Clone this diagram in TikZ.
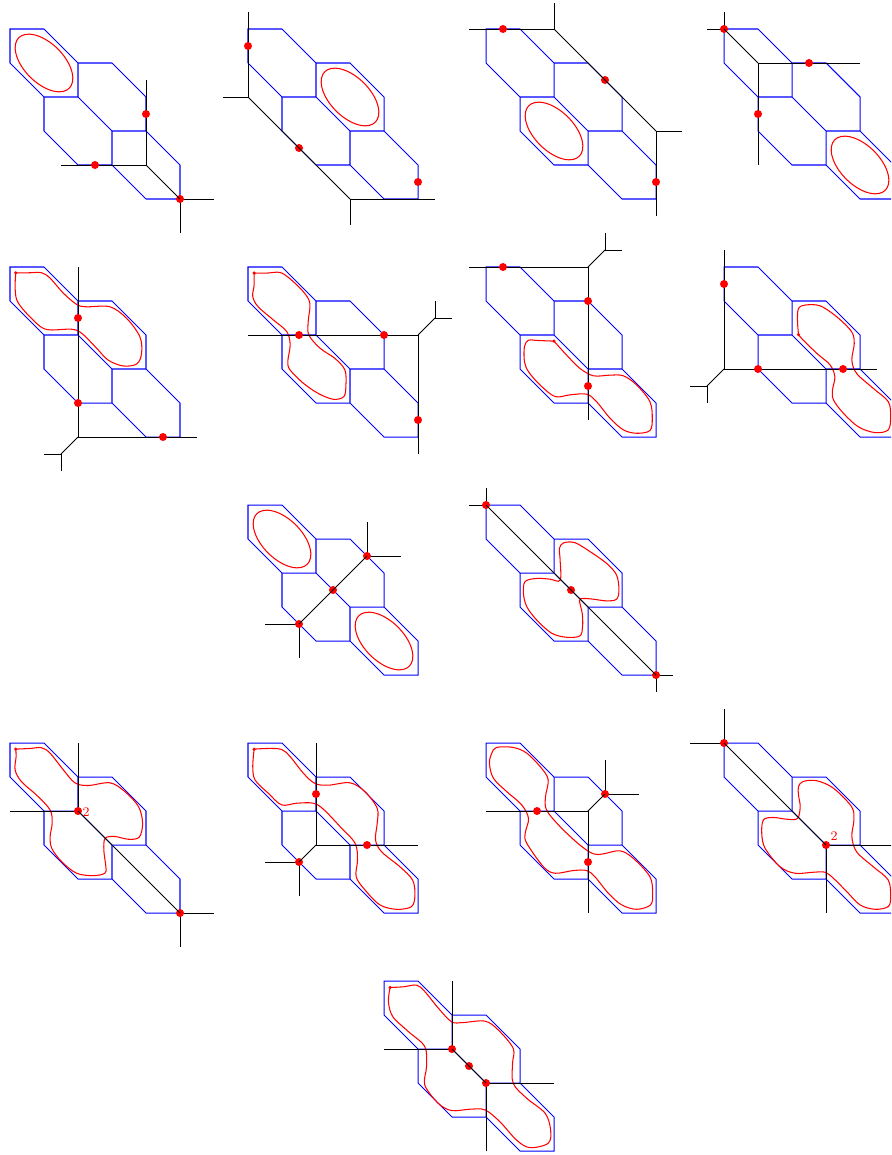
\documentclass[tikz,border=0pt]{standalone}
\usepackage{tikz}

\newcommand{\hexes}{\draw[sub] (0,0) -- (1,0) -- (2,1) -- (3,1) -- (4,2) -- (4,3) -- (5,4) -- (5,5) -- (4,5) -- (3,4) -- (2,4) -- (1,3) -- (1,2) -- (0,1) -- cycle
    (1,2) -- (2,2) -- (2,1) (2,2) -- (3,3) -- (4,3) (3,3) -- (3,4);}
\newcommand{\ringcur}[2]{\draw[cur] plot[smooth cycle, domain=0:350, samples=36] ({#1+.707*(1.05*cos(\x)+.58*sin(\x))},{#2+.707*(1.05*cos(\x)-.58*sin(\x))});}
\newcommand{\loopcur}[1]{\draw[cur] plot[smooth cycle, tension=.55] coordinates {#1};}
\newcommand{\seedcur}[2]{\draw[cur] plot[smooth, tension=.55] coordinates {#1 #2 #1};
    \fill[red] #1 circle (.035cm);}

\begin{document}
\begin{tikzpicture}[x=.68cm, y=-.68cm,
        sub/.style={blue, line width=.58pt},
        cur/.style={red, line width=.6pt},
        trop/.style={black, line width=.55pt},
        pt/.style={circle, fill=red, inner sep=0pt, minimum size=.16cm},
        mult/.style={red, inner sep=0pt, font=\fontsize{7.5}{9}\selectfont}]
      \useasboundingbox (0,0) rectangle (26.206,33.97);
      \clip (0,0) rectangle (26.206,33.97);

      % first row
      \begin{scope}[shift={(.294,.853)}]
        \hexes
        \ringcur{1}{1}
        \draw[trop] (4,1.5) -- (4,4) -- (1.5,4) (5,6) -- (5,5) -- (6,5);
        \node[pt] (a1) at (4,2.5) {};
        \node[pt] (b1) at (2.5,4) {};
        \node[pt] (c1) at (5,5) {};
        \draw[trop] (4,4) -- (5,5);
      \end{scope}
      \begin{scope}[shift={(7.294,.853)}]
        \hexes
        \ringcur{3}{2}
        \draw[trop] (0,-.5) -- (0,2) -- (-.75,2) (3,5.75) -- (3,5) -- (5.5,5);
        \node[pt] (a2) at (0,.5) {};
        \node[pt] (b2) at (1.5,3.5) {};
        \node[pt] (c2) at (5,4.5) {};
        \draw[trop] (0,2) -- (3,5);
      \end{scope}
      \begin{scope}[shift={(14.294,.853)}]
        \hexes
        \ringcur{2}{3}
        \draw[trop] (-.5,0) -- (2,0) -- (2,-.75) (5.75,3) -- (5,3) -- (5,5.5);
        \node[pt] (a3) at (.5,0) {};
        \node[pt] (b3) at (3.5,1.5) {};
        \node[pt] (c3) at (5,4.5) {};
        \draw[trop] (2,0) -- (5,3);
      \end{scope}
      \begin{scope}[shift={(21.294,.853)}]
        \hexes
        \ringcur{4}{4}
        \draw[trop] (-.5,0) -- (0,0) -- (0,-.5) (4,1) -- (1,1) -- (1,4);
        \node[pt] (a4) at (0,0) {};
        \node[pt] (b4) at (2.5,1) {};
        \node[pt] (c4) at (1,2.5) {};
        \draw[trop] (0,0) -- (1,1);
      \end{scope}

      % second row
      \begin{scope}[shift={(.294,7.853)}]
        \hexes
        \seedcur{(.17,.17)}{(.55,.17) (.93,.17) (1.18,.33) (1.57,.77) (1.96,1.1) (2.25,1.17) (2.94,1.17) (3.43,1.51) (3.82,2.05) (3.87,2.54) (3.73,2.85) (3.33,2.91) (2.89,2.74) (2.55,2.39) (2.11,1.95) (1.81,1.83) (1.18,1.85) (.88,1.74) (.44,1.31) (.2,.97) (.15,.58)}
        \draw[trop] (2,0) -- (2,5) -- (5.5,5) (1,5.5) -- (1.5,5.5) -- (1.5,6);
        \node[pt] (a5) at (2,1.5) {};
        \node[pt] (b5) at (2,4) {};
        \node[pt] (c5) at (4.5,5) {};
        \draw[trop] (2,5) -- (1.5,5.5);
      \end{scope}
      \begin{scope}[shift={(7.294,7.853)}]
        \hexes
        \seedcur{(.18,.18)}{(.55,.18) (.94,.16) (1.24,.35) (1.63,.73) (1.82,1.07) (1.77,1.61) (1.79,2) (2.12,2.39) (2.56,2.69) (2.85,3.03) (2.88,3.47) (2.82,3.81) (2.51,3.89) (2.07,3.72) (1.63,3.42) (1.24,3.03) (1.17,2.78) (1.24,2.29) (1.14,1.9) (.75,1.56) (.3,1.17) (.14,.87) (.18,.53)}
        \draw[trop] (0,2) -- (5,2) -- (5,5.5) (6,1.5) -- (5.5,1.5) -- (5.5,1);
        \node[pt] (a6) at (1.5,2) {};
        \node[pt] (b6) at (4,2) {};
        \node[pt] (c6) at (5,4.5) {};
        \draw[trop] (5,2) -- (5.5,1.5);
      \end{scope}
      \begin{scope}[shift={(14.294,7.853)}]
        \hexes
        \seedcur{(2,2.18)}{(1.49,2.16) (1.25,2.15) (1.13,2.34) (1.13,2.78) (1.25,3.08) (1.59,3.47) (2.03,3.81) (2.47,3.76) (2.96,3.74) (3.25,3.96) (3.65,4.45) (4.04,4.79) (4.43,4.89) (4.82,4.81) (4.89,4.45) (4.82,3.96) (4.43,3.47) (4.04,3.2) (3.65,3.18) (3.16,3.2) (2.76,2.98) (2.37,2.59)}
        \draw[trop] (-.5,0) -- (3,0) -- (3,4.5) (4,-.5) -- (3.5,-.5) -- (3.5,-1);
        \node[pt] (a7) at (.5,0) {};
        \node[pt] (b7) at (3,1) {};
        \node[pt] (c7) at (3,3.5) {};
        \draw[trop] (3,0) -- (3.5,-.5);
      \end{scope}
      \begin{scope}[shift={(21.294,7.853)}]
        \hexes
        \seedcur{(2.19,1.99)}{(2.16,1.56) (2.19,1.22) (2.38,1.12) (2.82,1.14) (3.31,1.46) (3.75,1.9) (3.83,2.25) (3.76,2.74) (3.9,3.13) (4.39,3.57) (4.83,3.96) (4.9,4.4) (4.83,4.79) (4.44,4.87) (3.95,4.7) (3.51,4.3) (3.22,3.91) (3.19,3.62) (3.26,3.23) (3.12,2.88) (2.73,2.54) (2.33,2.15)}
        \draw[trop] (0,-.5) -- (0,3) -- (4.5,3) (-1,3.5) -- (-.5,3.5) -- (-.5,4);
        \node[pt] (a8) at (0,.5) {};
        \node[pt] (b8) at (1,3) {};
        \node[pt] (c8) at (3.5,3) {};
        \draw[trop] (0,3) -- (-.5,3.5);
      \end{scope}

      % third row
      \begin{scope}[shift={(7.294,14.853)}]
        \hexes
        \ringcur{1}{1}
        \ringcur{4}{4}
        \draw[trop] (3.5,.5) -- (3.5,1.5) -- (4.5,1.5) (.5,3.5) -- (1.5,3.5) -- (1.5,4.5);
        \node[pt] (a9) at (3.5,1.5) {};
        \node[pt] (b9) at (2.5,2.5) {};
        \node[pt] (c9) at (1.5,3.5) {};
        \draw[trop] (3.5,1.5) -- (1.5,3.5);
      \end{scope}
      \begin{scope}[shift={(14.294,14.853)}]
        \hexes
        \loopcur{(2.18,2.21) (2.18,1.62) (2.16,1.27) (2.29,1.11) (2.62,1.11) (3.06,1.37) (3.55,1.72) (3.84,2.06) (3.91,2.5) (3.84,2.77) (3.55,2.82) (3.16,2.77) (2.86,2.75) (2.75,2.81) (2.83,3.19) (2.84,3.58) (2.76,3.85) (2.37,3.89) (1.93,3.77) (1.49,3.38) (1.2,2.99) (1.1,2.6) (1.15,2.25) (1.49,2.16) (1.88,2.18)}
        \draw[trop] (-.5,0) -- (0,0) -- (0,-.5) (5.5,5) -- (5,5) -- (5,5.5);
        \node[pt] (a10) at (0,0) {};
        \node[pt] (b10) at (2.5,2.5) {};
        \node[pt] (c10) at (5,5) {};
        \draw[trop] (0,0) -- (5,5);
      \end{scope}

      % fourth row
      \begin{scope}[shift={(.294,21.853)}]
        \hexes
        \seedcur{(.17,.18)}{(.59,.16) (.93,.14) (1.18,.3) (1.57,.79) (1.91,1.17) (2.3,1.25) (2.94,1.17) (3.38,1.43) (3.78,1.87) (3.9,2.36) (3.8,2.77) (3.48,2.83) (3.09,2.75) (2.8,2.8) (2.76,3.15) (2.82,3.64) (2.79,3.83) (2.45,3.9) (1.96,3.83) (1.52,3.49) (1.23,3.1) (1.18,2.75) (1.24,2.36) (1.18,1.97) (.78,1.53) (.34,1.14) (.15,.79) (.18,.4)}
        \draw[trop] (2,0) -- (2,2) -- (0,2) (6,5) -- (5,5) -- (5,6);
        \node[pt] (a11) at (2,2) {};
        \node[pt] (b11) at (5,5) {};
        \node[mult] (m11) at (2.24,2.03) {2};
        \draw[trop] (2,2) -- (5,5);
      \end{scope}
      \begin{scope}[shift={(7.294,21.853)}]
        \hexes
        \seedcur{(.18,.18)}{(.6,.16) (.99,.19) (1.24,.4) (1.63,.89) (1.97,1.19) (2.36,1.24) (3,1.17) (3.44,1.43) (3.8,1.92) (3.8,2.36) (3.75,2.85) (3.93,3.2) (4.47,3.64) (4.84,4.03) (4.91,4.47) (4.81,4.81) (4.37,4.89) (3.88,4.76) (3.44,4.32) (3.18,3.93) (3.22,3.44) (3.15,2.95) (2.71,2.46) (2.22,1.95) (1.92,1.77) (1.43,1.77) (.99,1.82) (.6,1.48) (.21,1.09) (.14,.7)}
        \draw[trop] (2,0) -- (2,3) -- (5,3) (.5,3.5) -- (1.5,3.5) -- (1.5,4.5);
        \node[pt] (a12) at (2,1.5) {};
        \node[pt] (b12) at (3.5,3) {};
        \node[pt] (c12) at (1.5,3.5) {};
        \draw[trop] (2,3) -- (1.5,3.5);
      \end{scope}
      \begin{scope}[shift={(14.294,21.853)}]
        \hexes
        \loopcur{(.17,.3) (.31,.13) (.8,.13) (1.2,.3) (1.64,.75) (1.83,1.09) (1.75,1.58) (1.78,1.97) (2.18,2.46) (2.76,3) (3.16,3.26) (3.45,3.26) (3.94,3.17) (4.33,3.39) (4.82,3.93) (4.9,4.42) (4.84,4.76) (4.43,4.89) (3.99,4.76) (3.6,4.42) (3.2,3.93) (2.96,3.75) (2.57,3.75) (2.03,3.83) (1.69,3.64) (1.2,2.95) (1.15,2.66) (1.25,2.22) (1.05,1.82) (.61,1.43) (.22,1.04) (.1,.6)}
        \draw[trop] (0,2) -- (3,2) -- (3,5) (3.5,.5) -- (3.5,1.5) -- (4.5,1.5);
        \node[pt] (a13) at (1.5,2) {};
        \node[pt] (b13) at (3,3.5) {};
        \node[pt] (c13) at (3.5,1.5) {};
        \draw[trop] (3,2) -- (3.5,1.5);
      \end{scope}
      \begin{scope}[shift={(21.294,21.853)}]
        \hexes
        \loopcur{(2.19,1.28) (2.33,1.13) (2.73,1.11) (3.22,1.33) (3.75,1.87) (3.82,2.26) (3.76,2.75) (3.9,3.2) (4.39,3.64) (4.83,4.03) (4.9,4.52) (4.83,4.81) (4.44,4.89) (4,4.76) (3.61,4.37) (3.22,3.98) (2.97,3.8) (2.63,3.8) (2.09,3.83) (1.65,3.64) (1.21,3.1) (1.11,2.66) (1.16,2.26) (1.45,2.19) (1.84,2.24) (2.16,2.22) (2.24,1.87) (2.19,1.53)}
        \draw[trop] (-1,0) -- (0,0) -- (0,-1) (5,3) -- (3,3) -- (3,5);
        \node[pt] (a14) at (0,0) {};
        \node[pt] (b14) at (3,3) {};
        \node[mult] (m14) at (3.24,2.74) {2};
        \draw[trop] (0,0) -- (3,3);
      \end{scope}

      % last row
      \begin{scope}[shift={(11.294,28.853)}]
        \hexes
        \seedcur{(.18,.19)}{(.57,.17) (.96,.12) (1.2,.31) (1.6,.8) (1.99,1.2) (2.33,1.22) (2.97,1.18) (3.36,1.44) (3.8,1.98) (3.78,2.42) (3.8,3.01) (4.2,3.45) (4.74,3.89) (4.9,4.38) (4.83,4.77) (4.29,4.9) (3.9,4.68) (3.41,4.14) (2.97,3.79) (2.53,3.77) (1.99,3.81) (1.6,3.6) (1.2,3.06) (1.25,2.52) (1.2,1.93) (.72,1.49) (.26,1.05) (.13,.61)}
        \draw[trop] (2,0) -- (2,2) -- (0,2) (5,3) -- (3,3) -- (3,5);
        \node[pt] (a15) at (2,2) {};
        \node[pt] (b15) at (2.5,2.5) {};
        \node[pt] (c15) at (3,3) {};
        \draw[trop] (2,2) -- (3,3);
      \end{scope}
    \end{tikzpicture}
\end{document}
